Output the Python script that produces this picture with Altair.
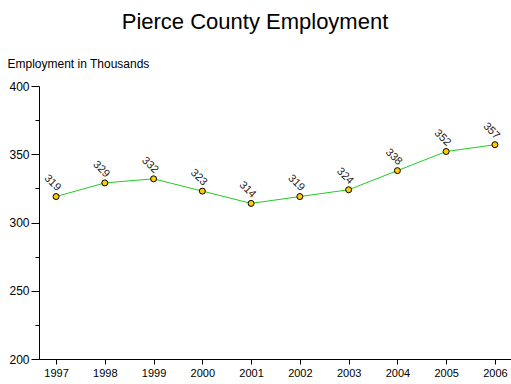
import altair as alt
import pandas as pd

years = [1997, 1998, 1999, 2000, 2001, 2002, 2003, 2004, 2005, 2006]
employment = [319, 329, 332, 323, 314, 319, 324, 338, 352, 357]
y_ticks = [200, 225, 250, 275, 300, 325, 350, 375, 400]

df = pd.DataFrame({"year": years, "emp": employment})
FONT = "Liberation Sans"

x = alt.X("year:Q", scale=alt.Scale(domain=[1996.65, 2006.33], nice=False, zero=False),
          axis=alt.Axis(values=years, format="d", title=None, grid=False, tickSize=5,
                        labelFontSize=11, labelPadding=3, labelFont=FONT, labelColor="#000",
                        domainColor="#000", tickColor="#000", labelFlush=False))
y = alt.Y("emp:Q", scale=alt.Scale(domain=[200, 400], nice=False, zero=False),
          axis=alt.Axis(values=y_ticks, grid=False, title="Employment in Thousands",
                        titleAngle=0, titleX=-32, titleY=-23, titleAlign="left",
                        titleBaseline="middle", titleFontSize=12, titleFontWeight="normal",
                        titleFont=FONT, titleColor="#000",
                        labelExpr="datum.value % 50 == 0 ? datum.label : ''",
                        tickSize={"condition": {"test": "datum.value % 50 === 0", "value": 8}, "value": 4},
                        labelFontSize=12, labelFont=FONT, labelColor="#000", labelPadding=2,
                        domainColor="#000", tickColor="#000"))

base = alt.Chart(df)
line = base.mark_line(color="#22CC22", strokeWidth=1).encode(x=x, y=y)
pts = base.mark_point(filled=True, fill="#FFCC00", stroke="#000", strokeWidth=1, size=36, opacity=1).encode(x=x, y=y)
labels = base.mark_text(angle=45, align="right", baseline="middle", dx=-3, dy=-7,
                        fontSize=11, font=FONT, color="#222").encode(x=x, y=y, text="emp:Q")

chart = (line + pts + labels).properties(
    width=472, height=273,
    title=alt.TitleParams("Pierce County Employment", fontSize=22, font=FONT,
                          fontWeight="normal", color="#000", anchor="middle", dx=-20, offset=13,
                          baseline="middle"),
    autosize=alt.AutoSizeParams(type="none"),
    padding={"left": 39, "top": 86, "right": 0, "bottom": 25},
).configure(background="white").configure_view(stroke=None)

chart.save("out.html", embed_options={"renderer": "svg", "actions": False})
